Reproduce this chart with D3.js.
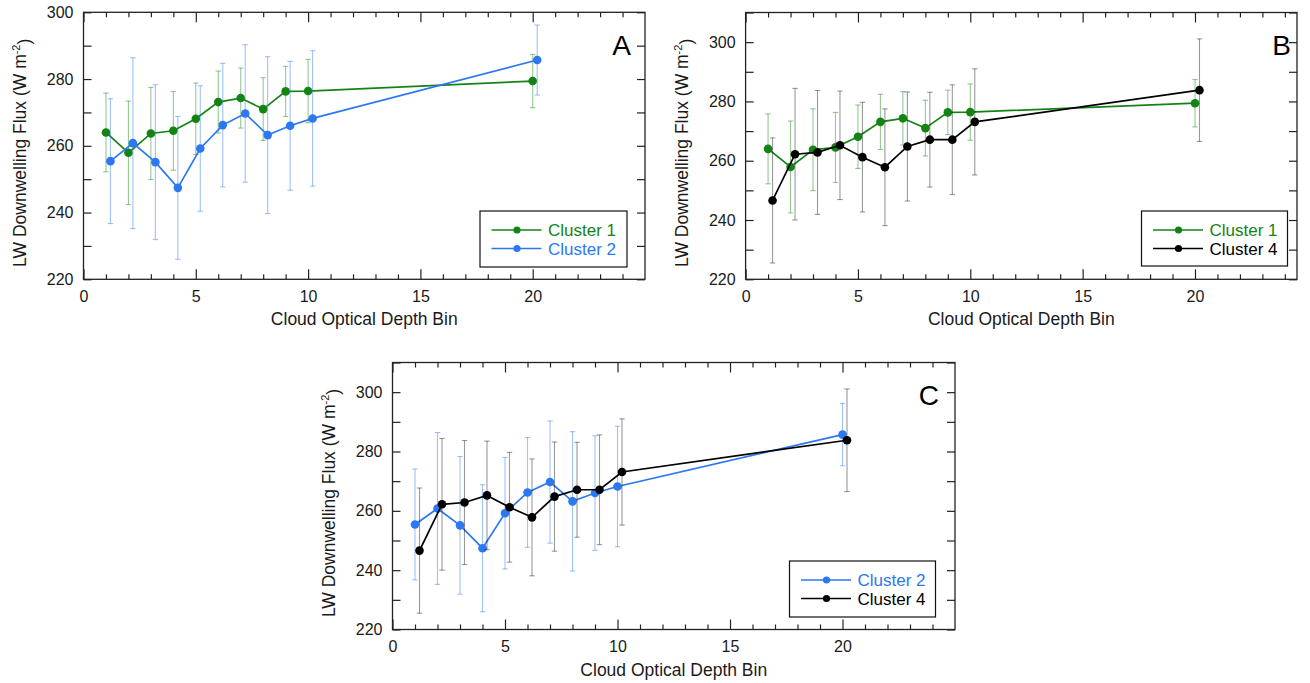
<!DOCTYPE html>
<html>
<head>
<meta charset="utf-8">
<script src="https://cdn.jsdelivr.net/npm/d3@7"></script>
<style>
  html, body { margin: 0; padding: 0; background: #fff; }
  svg { display: block; font-family: "Liberation Sans", Arial, sans-serif; }
</style>
</head>
<body>
<svg id="chart" width="1310" height="683"></svg>
<script>
// ---------- data ----------
const bins = [1, 2, 3, 4, 5, 6, 7, 8, 9, 10, 20];
const cluster1Mean = [264.0, 257.9, 263.7, 264.5, 268.1, 273.1, 274.3, 271.0, 276.3, 276.4, 279.4];
const cluster1Err  = [11.8, 15.5, 13.8, 11.8, 10.7, 9.3, 9.0, 9.4, 7.5, 9.5, 8.0];
const cluster2Mean = [255.4, 260.8, 255.1, 247.4, 259.2, 266.2, 269.7, 263.2, 266.0, 268.2, 285.7];
const cluster2Err  = [18.7, 25.6, 23.2, 21.4, 18.8, 18.5, 20.6, 23.5, 19.3, 20.3, 10.5];
const cluster4Mean = [246.6, 262.2, 262.8, 265.2, 261.2, 257.8, 264.8, 267.1, 267.1, 273.1, 283.8];
const cluster4Err  = [21.1, 22.2, 20.9, 18.3, 18.5, 19.7, 18.4, 16.0, 18.5, 17.9, 17.3];
const xMajorTicks = [0, 5, 10, 15, 20];
const yLabelTicks = [220, 240, 260, 280, 300];
const panelLabels = ["A", "B", "C"];
const seriesNames = ["Cluster 1", "Cluster 2", "Cluster 4"];

// ---------- styles ----------
const colors = { "Cluster 1": "#138413", "Cluster 2": "#2b78f2", "Cluster 4": "#000000" };
const seriesData = {
  "Cluster 1": { mean: cluster1Mean, err: cluster1Err },
  "Cluster 2": { mean: cluster2Mean, err: cluster2Err },
  "Cluster 4": { mean: cluster4Mean, err: cluster4Err }
};

const panels = [
  { label: panelLabels[0], left: 83.5, right: 645, top: 12.3, bottom: 279.3, xMax: 25, yMax: 300,
    series: [{ name: seriesNames[0], off: 0 }, { name: seriesNames[1], off: 0.2 }],
    legend: { x: 480, y: 211, w: 147, h: 56 }, letter: { x: 631, y: 55 } },
  { label: panelLabels[1], left: 745.6, right: 1297, top: 12.5, bottom: 279.3, xMax: 24.54, yMax: 310,
    series: [{ name: seriesNames[0], off: 0 }, { name: seriesNames[2], off: 0.2 }],
    legend: { x: 1141.5, y: 211, w: 146, h: 55 }, letter: { x: 1291, y: 55 } },
  { label: panelLabels[2], left: 392.5, right: 955, top: 362.5, bottom: 629.5, xMax: 25, yMax: 310,
    series: [{ name: seriesNames[1], off: 0 }, { name: seriesNames[2], off: 0.2 }],
    legend: { x: 789.5, y: 561, w: 146, h: 56 }, letter: { x: 939, y: 405 } }
];

const svg = d3.select("#chart");
const tickFont = 16, titleFont = 17.5, legendFont = 17;

panels.forEach(p => {
  const x = d3.scaleLinear().domain([0, p.xMax]).range([p.left, p.right]);
  const y = d3.scaleLinear().domain([220, p.yMax]).range([p.bottom, p.top]);
  const g = svg.append("g");
  const yTicks = d3.range(220, p.yMax + 0.1, 10);
  const minorX = d3.range(0, Math.floor(p.xMax) + 1, 1).filter(v => v % 5 !== 0);

  // bottom axis minor + major
  const styleAxis = sel => {
    sel.select(".domain").remove();
    sel.selectAll(".tick line").attr("stroke", "#222").attr("stroke-width", 1.2);
    sel.selectAll("text").attr("fill", "#1a1a1a").style("font-size", tickFont + "px")
      .style("font-family", "'Liberation Sans', Arial, sans-serif");
  };
  g.append("g").attr("transform", `translate(0,${p.bottom})`)
    .call(d3.axisBottom(x).tickValues(minorX).tickSize(-5).tickFormat(""))
    .call(styleAxis);
  g.append("g").attr("transform", `translate(0,${p.bottom})`)
    .call(d3.axisBottom(x).tickValues(xMajorTicks).tickSize(-10).tickPadding(11.5).tickFormat(d3.format("d")))
    .call(styleAxis);
  // top mirrored
  g.append("g").attr("transform", `translate(0,${p.top})`)
    .call(d3.axisTop(x).tickValues(minorX).tickSize(-5).tickFormat(""))
    .call(styleAxis);
  g.append("g").attr("transform", `translate(0,${p.top})`)
    .call(d3.axisTop(x).tickValues(xMajorTicks).tickSize(-10).tickFormat(""))
    .call(styleAxis);
  // left axis
  g.append("g").attr("transform", `translate(${p.left},0)`)
    .call(d3.axisLeft(y).tickValues(yTicks).tickSize(-8).tickPadding(10)
      .tickFormat(d => yLabelTicks.includes(d) ? d3.format("d")(d) : ""))
    .call(styleAxis);
  // right mirrored
  g.append("g").attr("transform", `translate(${p.right},0)`)
    .call(d3.axisRight(y).tickValues(yTicks).tickSize(-8).tickFormat(""))
    .call(styleAxis);

  // frame
  g.append("rect").attr("x", p.left).attr("y", p.top)
    .attr("width", p.right - p.left).attr("height", p.bottom - p.top)
    .attr("fill", "none").attr("stroke", "#222").attr("stroke-width", 1.3);

  // series
  p.series.forEach(s => {
    const sd = seriesData[s.name];
    const col = colors[s.name];
    const pts = bins.map((b, i) => ({ x: b + s.off, m: sd.mean[i], e: sd.err[i] }));
    const eg = g.append("g").attr("stroke", col).attr("stroke-opacity", s.name === "Cluster 4" ? 0.4 : 0.45)
      .attr("stroke-width", 1.1).attr("fill", "none");
    pts.forEach(d => {
      const xx = x(d.x), y1 = y(d.m + d.e), y2 = y(d.m - d.e);
      eg.append("line").attr("x1", xx).attr("x2", xx).attr("y1", y1).attr("y2", y2);
      eg.append("line").attr("x1", xx - 2.7).attr("x2", xx + 2.7).attr("y1", y1).attr("y2", y1);
      eg.append("line").attr("x1", xx - 2.7).attr("x2", xx + 2.7).attr("y1", y2).attr("y2", y2);
    });
    g.append("path").datum(pts)
      .attr("d", d3.line().x(d => x(d.x)).y(d => y(d.m)))
      .attr("fill", "none").attr("stroke", col).attr("stroke-width", 1.7);
    g.append("g").selectAll("circle").data(pts).join("circle")
      .attr("cx", d => x(d.x)).attr("cy", d => y(d.m)).attr("r", 4.3).attr("fill", col);
  });

  // legend
  const L = p.legend;
  const lg = g.append("g");
  lg.append("rect").attr("x", L.x).attr("y", L.y).attr("width", L.w).attr("height", L.h)
    .attr("fill", "#fff").attr("stroke", "#111").attr("stroke-width", 1.2);
  p.series.forEach((s, i) => {
    const ry = L.y + 19 + i * 18.5;
    const col = colors[s.name];
    lg.append("line").attr("x1", L.x + 11.5).attr("x2", L.x + 61.5).attr("y1", ry).attr("y2", ry)
      .attr("stroke", col).attr("stroke-width", 1.5);
    lg.append("circle").attr("cx", L.x + 37).attr("cy", ry).attr("r", 3.6).attr("fill", col);
    lg.append("text").attr("x", L.x + 68).attr("y", ry).attr("dy", "0.36em")
      .style("font-size", legendFont + "px").attr("fill", col).text(s.name);
  });

  // panel letter
  g.append("text").attr("x", p.letter.x).attr("y", p.letter.y).attr("text-anchor", "end")
    .style("font-size", "28px").attr("fill", "#000").text(p.label);

  // x title
  g.append("text").attr("x", (p.left + p.right) / 2).attr("y", p.bottom + 46)
    .attr("text-anchor", "middle").style("font-size", titleFont + "px").attr("fill", "#1a1a1a")
    .text("Cloud Optical Depth Bin");

  // y title
  const cy = (p.top + p.bottom) / 2 + 7;
  const tx = p.left - 63.5;
  const yt = g.append("text").attr("transform", `translate(${tx},${cy}) rotate(-90)`)
    .attr("text-anchor", "middle").attr("dy", "0.36em")
    .style("font-size", titleFont + "px").attr("fill", "#1a1a1a");
  yt.append("tspan").text("LW Downwelling Flux (W m");
  yt.append("tspan").attr("dy", "-0.55em").style("font-size", "11px").text("-2");
  yt.append("tspan").attr("dy", "0.55em").text(")");
});
</script>
</body>
</html>
